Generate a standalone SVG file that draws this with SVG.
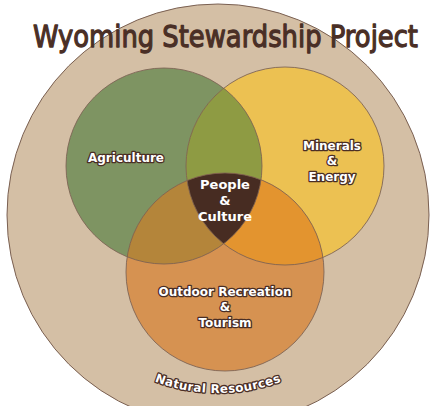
<svg xmlns="http://www.w3.org/2000/svg" width="433" height="406" viewBox="0 0 433 406">
  <defs>
    <clipPath id="clipG"><circle cx="164" cy="166" r="98"/></clipPath>
    <clipPath id="clipY"><circle cx="285" cy="166" r="99"/></clipPath>
    <path id="arcNR" d="M 92.1 340.9 A 178 178 0 0 0 343.9 340.9"/>
    <style>
      .ring { fill: none; stroke: #7a6052; stroke-width: 1; stroke-opacity: 0.85; }
      .lbl { font-family: "DejaVu Sans", "Liberation Sans", sans-serif; font-weight: bold; font-size: 12px; fill: #ffffff; stroke: #4a2e25; stroke-width: 2.6; paint-order: stroke; stroke-linejoin: round; text-anchor: middle; }
      .core { font-family: "DejaVu Sans", "Liberation Sans", sans-serif; font-weight: bold; font-size: 13px; fill: #ffffff; text-anchor: middle; }
      .title { font-family: "DejaVu Sans", "Liberation Sans", sans-serif; font-size: 31px; fill: #4a2f26; stroke: #4a2f26; stroke-width: 1.3; stroke-linejoin: round; }
    </style>
  </defs>

  <g id="natural-resources">
    <circle cx="218" cy="215" r="211" fill="#d4bfa5" stroke="#7a6052" stroke-width="1"/>
    <text class="lbl" font-size="11.5" letter-spacing="0.3"><textPath href="#arcNR" startOffset="50%">Natural Resources</textPath></text>
  </g>

  <g id="regions">
    <circle cx="164" cy="166" r="98" fill="#7e9462"/>
    <circle cx="285" cy="166" r="99" fill="#ecc152"/>
    <circle cx="225" cy="272" r="99" fill="#d69251"/>
    <circle cx="285" cy="166" r="99" fill="#8e9b43" clip-path="url(#clipG)"/>
    <circle cx="225" cy="272" r="99" fill="#b4853a" clip-path="url(#clipG)"/>
    <circle cx="225" cy="272" r="99" fill="#e3942f" clip-path="url(#clipY)"/>
    <g clip-path="url(#clipG)">
      <circle cx="225" cy="272" r="99" fill="#472c22" clip-path="url(#clipY)"/>
    </g>
    <circle class="ring" cx="164" cy="166" r="98"/>
    <circle class="ring" cx="285" cy="166" r="99"/>
    <circle class="ring" cx="225" cy="272" r="99"/>
  </g>

  <g id="agriculture">
    <text class="lbl" x="126" y="162">Agriculture</text>
  </g>

  <g id="minerals-energy">
    <text class="lbl" x="332" y="150">Minerals</text>
    <text class="lbl" x="332" y="165">&amp;</text>
    <text class="lbl" x="332" y="181">Energy</text>
  </g>

  <g id="outdoor-recreation">
    <text class="lbl" x="225" y="296">Outdoor Recreation</text>
    <text class="lbl" x="225" y="311">&amp;</text>
    <text class="lbl" x="225" y="327">Tourism</text>
  </g>

  <g id="people-culture">
    <text class="core" x="225" y="189">People</text>
    <text class="core" x="225" y="205">&amp;</text>
    <text class="core" x="225" y="221">Culture</text>
  </g>

  <g id="title">
    <text class="title" x="33" y="47" textLength="385" lengthAdjust="spacingAndGlyphs">Wyoming Stewardship Project</text>
  </g>
</svg>
